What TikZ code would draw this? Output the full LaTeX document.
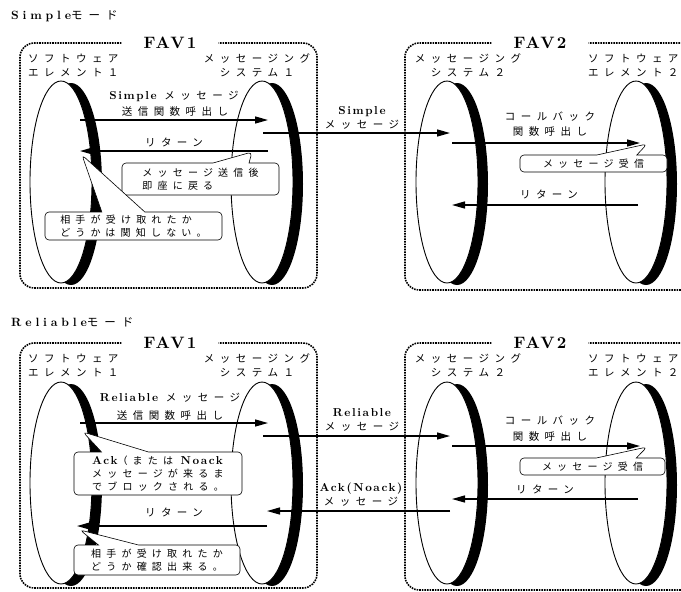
\documentclass[tikz,border=0pt]{standalone}
\usepackage{fontspec}
\newfontfamily\jp{Noto Sans CJK JP}[LetterSpace=52]
\newfontfamily\lat{lmroman10-bold.otf}[LetterSpace=14]
\newfontfamily\latw{lmroman10-bold.otf}[LetterSpace=32]
\newcommand{\lw}[1]{{\lat\fontsize{11.5}{14}\selectfont #1}}
\usetikzlibrary{arrows.meta,shapes.callouts}

\begin{document}
\begin{tikzpicture}[x=1pt, y=-1pt,
  jtext/.style={font=\jp\fontsize{10.5}{14}\selectfont, inner sep=0pt},
  favbox/.style={densely dotted, line width=1.6pt, rounded corners=14pt},
  favlabel/.style={font=\lat\fontsize{16.5}{16}\selectfont, inner xsep=22pt},
  msg/.style={line width=1.3pt, -{Triangle[length=13pt,width=7pt]}},
  note/.style={rectangle callout, draw, fill=white, line width=0.6pt, rounded corners=4pt,
    align=left, inner ysep=2pt, font=\jp\fontsize{10}{13}\selectfont},
]
\clip (0,0) rectangle (681,592);
% lifelines (discs seen edge-on)
\foreach \cx in {61,262,447,636}
  \foreach \cy in {182,483} {
    \fill (\cx+10,\cy+2) ellipse (31 and 101);
    \draw[line width=0.9pt, fill=white] (\cx,\cy) ellipse (31 and 101);
  }
% frames, titles and lifeline names for both modes
\foreach \dy/\ty/\mode in {0/16/Simple, 300/322/Reliable} {
  \node[jtext, anchor=west, font=\jp\fontsize{11.5}{14}\selectfont] (title-\dy) at (11,\ty)
    {{\latw\fontsize{12}{14}\selectfont\mode}モード};
  \node[favlabel] (fav1-\dy) at (170,43+\dy) {FAV1};
  \draw[favbox] (fav1-\dy.west) -- (20,43+\dy) -- (20,288+\dy) -- (317,288+\dy)
    -- (317,43+\dy) -- (fav1-\dy.east);
  \node[favlabel] (fav2-\dy) at (540,43+\dy) {FAV2};
  \draw[favbox] (fav2-\dy.west) -- (405,43+\dy) -- (405,290+\dy) -- (700,290+\dy)
    -- (700,43+\dy) -- (fav2-\dy.east);
  \node[jtext, anchor=west, align=left] (sw1-\dy) at (28,65+\dy) {ソフトウェア\\エレメント１};
  \node[jtext, align=center] (ms1-\dy) at (257,65+\dy) {メッセージング\\システム１};
  \node[jtext, align=center] (ms2-\dy) at (468,65+\dy) {メッセージング\\システム２};
  \node[jtext, anchor=west, align=left] (sw2-\dy) at (588,65+\dy) {ソフトウェア\\エレメント２};
}

% Simple mode
\node[jtext] (s-kind) at (174,96) {\lw{Simple} メッセージ};
\node[jtext] (s-call) at (175,112) {送信関数呼出し};
\coordinate (s-c1) at (80,120); \coordinate (s-c2) at (268,120);
\draw[msg] (s-c1) -- (s-c2);
\node[jtext] (s-ret1) at (174,142) {リターン};
\coordinate (s-r1) at (268,151); \coordinate (s-r2) at (80,151);
\draw[msg] (s-r1) -- (s-r2);
\node[jtext, align=center] (s-net) at (362,118) {\lw{Simple}\\メッセージ};
\coordinate (s-m1) at (263,133); \coordinate (s-m2) at (450,133);
\draw[msg] (s-m1) -- (s-m2);
\node[jtext] (s-cb) at (550,117) {コールバック};
\node[jtext] (s-cbf) at (550,132) {関数呼出し};
\coordinate (s-k1) at (452,143); \coordinate (s-k2) at (640,143);
\draw[msg] (s-k1) -- (s-k2);
\node[jtext] (s-ret2) at (549,194) {リターン};
\coordinate (s-q1) at (638,205); \coordinate (s-q2) at (452,205);
\draw[msg] (s-q1) -- (s-q2);
\node[note, minimum width=157pt, minimum height=32pt, callout pointer width=36pt,
  callout absolute pointer={(252,152)}] (s-note1) at (200.5,179) {メッセージ送信後\\即座に戻る};
\node[note, minimum width=177pt, minimum height=28pt, callout pointer width=43pt,
  callout absolute pointer={(82,155)}] (s-note2) at (133.5,226) {相手が受け取れたか\\どうかは関知しない。};
\node[note, minimum width=147pt, minimum height=17pt, callout pointer width=40pt,
  callout absolute pointer={(647,144)}] (s-note3) at (593.5,163.5) {メッセージ受信};

% Reliable mode
\node[jtext] (r-kind) at (170,398) {\lw{Reliable} メッセージ};
\node[jtext] (r-call) at (170,416) {送信関数呼出し};
\coordinate (r-c1) at (80,423); \coordinate (r-c2) at (268,423);
\draw[msg] (r-c1) -- (r-c2);
\node[jtext, align=center] (r-net) at (362,420) {\lw{Reliable}\\メッセージ};
\coordinate (r-m1) at (263,436); \coordinate (r-m2) at (450,436);
\draw[msg] (r-m1) -- (r-m2);
\node[jtext] (r-cb) at (550,421) {コールバック};
\node[jtext] (r-cbf) at (550,437) {関数呼出し};
\coordinate (r-k1) at (452,446); \coordinate (r-k2) at (640,446);
\draw[msg] (r-k1) -- (r-k2);
\node[jtext] (r-ret2) at (545,489) {リターン};
\coordinate (r-q1) at (638,499); \coordinate (r-q2) at (452,499);
\draw[msg] (r-q1) -- (r-q2);
\node[jtext, align=center] (r-ack) at (361,495) {\lw{Ack(Noack)}\\メッセージ};
\coordinate (r-a1) at (450,511); \coordinate (r-a2) at (267,511);
\draw[msg] (r-a1) -- (r-a2);
\node[jtext] (r-ret1) at (174,512) {リターン};
\coordinate (r-r1) at (267,526); \coordinate (r-r2) at (77,526);
\draw[msg] (r-r1) -- (r-r2);
\node[note, minimum width=168pt, minimum height=43pt, callout pointer width=47pt,
  callout absolute pointer={(83,432)}] (r-note1) at (158,473.5)
  {\lw{Ack}（または \lw{Noack}\\メッセージが来るま\\でブロックされる。};
\node[note, minimum width=166pt, minimum height=30pt, callout pointer width=40pt,
  callout absolute pointer={(80,530)}] (r-note2) at (157,560) {相手が受け取れたか\\どうか確認出来る。};
\node[note, minimum width=145pt, minimum height=17pt, callout pointer width=40pt,
  callout absolute pointer={(647,447)}] (r-note3) at (592.5,466.5) {メッセージ受信};
\end{tikzpicture}
\end{document}
